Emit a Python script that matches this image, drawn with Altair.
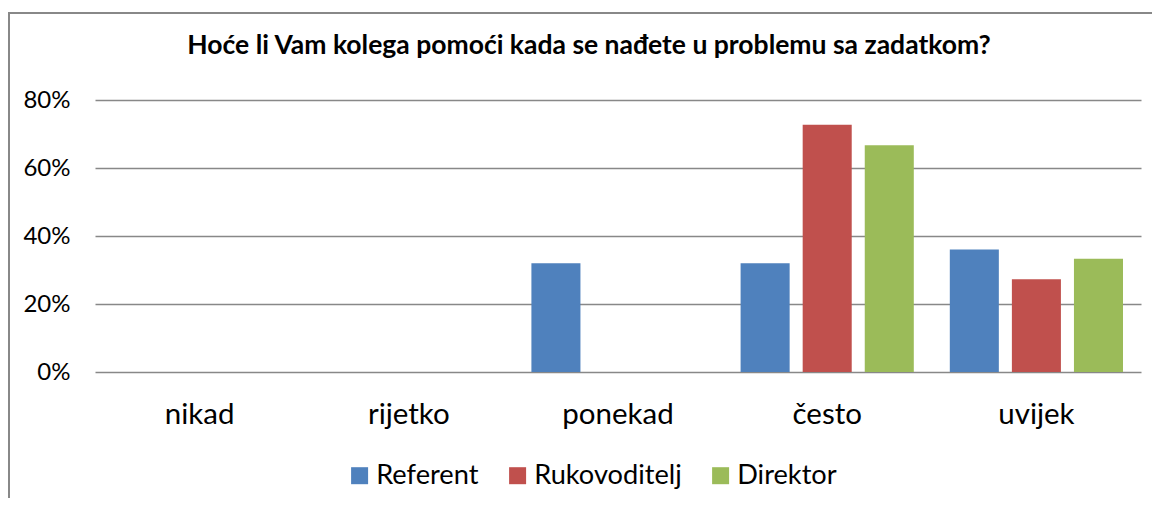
import altair as alt
import pandas as pd

categories = ["nikad", "rijetko", "ponekad", "često", "uvijek"]
series = ["Referent", "Rukovoditelj", "Direktor"]
referent = [0.0, 0.0, 0.32, 0.32, 0.36]
rukovoditelj = [0.0, 0.0, 0.0, 0.727, 0.273]
direktor = [0.0, 0.0, 0.0, 0.667, 0.333]
colors = ["#4F81BD", "#C0504D", "#9BBB59"]
y_ticks = [0, 0.2, 0.4, 0.6, 0.8]
title_text = "Hoće li Vam kolega pomoći kada se nađete u problemu sa zadatkom?"

rows = []
for s, vals in zip(series, [referent, rukovoditelj, direktor]):
    for c, v in zip(categories, vals):
        rows.append({"kategorija": c, "serija": s, "vrijednost": v})
df = pd.DataFrame(rows)

FONT = "Lato"
GRID = "#888888"

bars = alt.Chart(df).mark_bar().encode(
    x=alt.X(
        "kategorija:N",
        sort=categories,
        scale=alt.Scale(paddingInner=0, paddingOuter=0),
        axis=alt.Axis(
            title=None, labelAngle=0, domain=False, ticks=False, tickSize=0,
            labelFont=FONT, labelFontSize=29.5, labelColor="#000000",
            labelBaseline="alphabetic", labelPadding=51, grid=False,
        ),
    ),
    xOffset=alt.XOffset(
        "serija:N", sort=series,
        scale=alt.Scale(paddingInner=0.21, paddingOuter=0.29),
    ),
    y=alt.Y(
        "vrijednost:Q",
        scale=alt.Scale(domain=[0, 0.8], nice=False),
        axis=alt.Axis(
            title=None, values=y_ticks, format=".0%", domain=False, ticks=False,
            tickSize=0, labelFont=FONT, labelFontSize=24, labelColor="#000000",
            labelPadding=25, grid=True, gridColor=GRID, gridWidth=1.6,
        ),
    ),
    color=alt.Color(
        "serija:N",
        sort=series,
        scale=alt.Scale(domain=series, range=colors),
        legend=alt.Legend(
            title=None, orient="none", direction="horizontal",
            legendX=251, legendY=362, symbolType="square", symbolSize=289,
            symbolStrokeWidth=0, labelFont=FONT, labelFontSize=27.2,
            labelColor="#000000", columnPadding=25, labelOffset=3,
        ),
    ),
)

dummy = alt.Data(values=[{"a": 1}])
left_border = alt.Chart(dummy).mark_rule(color=GRID, strokeWidth=2).encode(
    x=alt.value(-86), y=alt.value(-88), y2=alt.value(520)
)
top_border = alt.Chart(dummy).mark_rule(color=GRID, strokeWidth=2).encode(
    x=alt.value(-87), x2=alt.value(1200), y=alt.value(-87)
)

chart = alt.layer(bars, left_border, top_border).properties(
    width=1046,
    height=272,
    autosize=alt.AutoSizeParams(type="none"),
    padding={"left": 87, "top": 92, "right": 11, "bottom": 126},
    title=alt.TitleParams(
        text=title_text, font=FONT, fontSize=26.5, fontWeight="bold",
        color="#000000", anchor="middle", dx=-29, baseline="alphabetic",
        offset=-69,
    ),
).configure_view(stroke=None)

chart.save("out.html", embed_options={"renderer": "svg", "actions": False})
